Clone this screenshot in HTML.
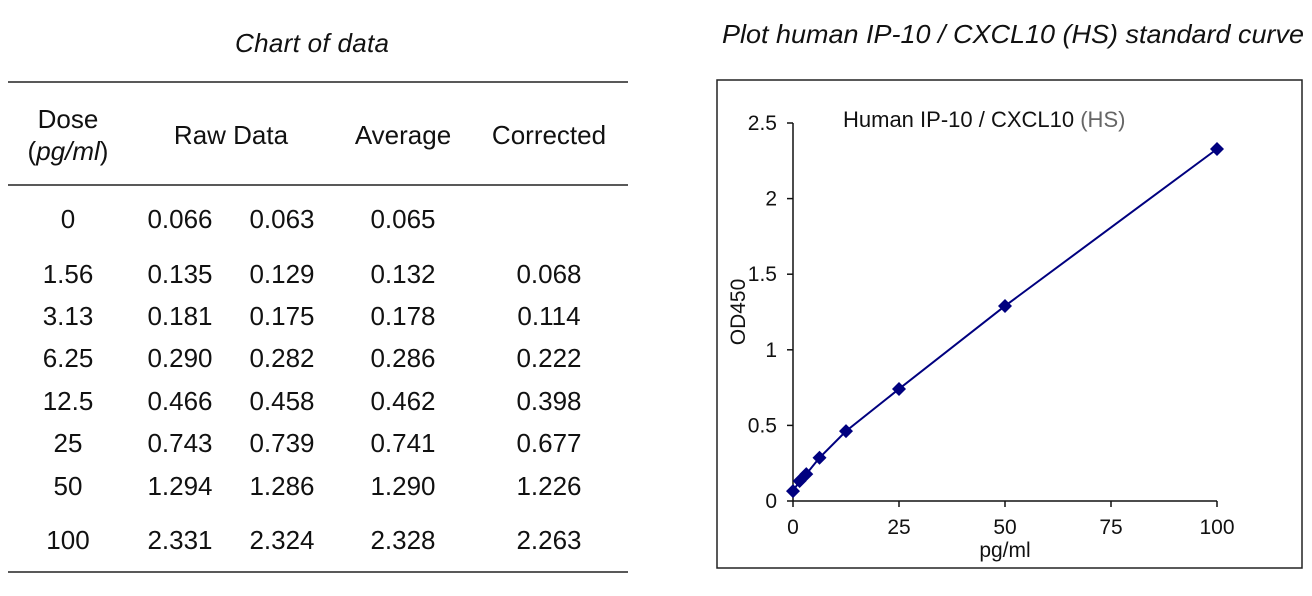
<!DOCTYPE html>
<html><head><meta charset="utf-8"><style>
body{margin:0;width:1312px;height:591px;background:#fff;font-family:"Liberation Sans",Arial,sans-serif;overflow:hidden}
svg text{font-family:"Liberation Sans",Arial,sans-serif;fill:#111}
</style></head><body>
<svg width="1312" height="591">
<g font-size="26">
<text x="312" y="52" text-anchor="middle" font-style="italic" font-size="26" textLength="154">Chart of data</text>
<line x1="8" y1="82" x2="628" y2="82" stroke="#222" stroke-width="1.5"/>
<line x1="8" y1="185" x2="628" y2="185" stroke="#222" stroke-width="1.5"/>
<line x1="8" y1="572" x2="628" y2="572" stroke="#222" stroke-width="1.5"/>
<text x="68" y="128" text-anchor="middle">Dose</text>
<text x="68" y="160" text-anchor="middle">(<tspan font-style="italic">pg/ml</tspan>)</text>
<text x="231" y="144" text-anchor="middle">Raw Data</text>
<text x="403" y="144" text-anchor="middle">Average</text>
<text x="549" y="144" text-anchor="middle">Corrected</text>
<g id="rows"></g>
</g>
<g>
<text x="722" y="43" font-style="italic" font-size="26" textLength="582" lengthAdjust="spacingAndGlyphs">Plot human IP-10 / CXCL10 (HS) standard curve</text>
<rect x="717" y="80" width="585" height="488" fill="none" stroke="#222" stroke-width="1.5"/>
<text x="843" y="127" font-size="22">Human IP-10 / CXCL10 <tspan fill="#666">(HS)</tspan></text>
<text x="1005" y="557" text-anchor="middle" font-size="21">pg/ml</text>
<text transform="translate(745,312) rotate(-90)" text-anchor="middle" font-size="21">OD450</text>
<g id="axes"></g><g id="marks"></g>
</g>
</svg>
<script>
const doses=["0","1.56","3.13","6.25","12.5","25","50","100"];
const raw1=["0.066","0.135","0.181","0.290","0.466","0.743","1.294","2.331"];
const raw2=["0.063","0.129","0.175","0.282","0.458","0.739","1.286","2.324"];
const avg=["0.065","0.132","0.178","0.286","0.462","0.741","1.290","2.328"];
const corr=["","0.068","0.114","0.222","0.398","0.677","1.226","2.263"];
const xVals=[0,1.56,3.13,6.25,12.5,25,50,100];
const yVals=[0.065,0.132,0.178,0.286,0.462,0.741,1.290,2.328];
const xTicks=[0,25,50,75,100];
const yTicks=[0,0.5,1,1.5,2,2.5];
const NS="http://www.w3.org/2000/svg";
function mk(t,a,p){const e=document.createElementNS(NS,t);for(const k in a)e.setAttribute(k,a[k]);p.appendChild(e);return e;}
const rowY=[228,283,325,367,410,452,495,549];
const rows=document.getElementById('rows');
const cols=[[68,doses],[180,raw1],[282,raw2],[403,avg],[549,corr]];
rowY.forEach((y,i)=>{cols.forEach(([x,arr])=>{const t=mk('text',{x:x,y:y,'text-anchor':'middle'},rows);t.textContent=arr[i];

});});
const X=v=>793+v*(1217-793)/100, Y=v=>501-v*(501-123)/2.5;
const ax=document.getElementById('axes');
mk('line',{x1:793,y1:Y(2.5),x2:793,y2:501,stroke:'#111','stroke-width':1.5},ax);
mk('line',{x1:793,y1:501,x2:1217,y2:501,stroke:'#111','stroke-width':1.5},ax);
yTicks.forEach(v=>{mk('line',{x1:787,y1:Y(v),x2:793,y2:Y(v),stroke:'#111','stroke-width':1.5},ax);
const t=mk('text',{x:777,y:Y(v)+7,'text-anchor':'end','font-size':21},ax);t.textContent=String(v);

});
xTicks.forEach(v=>{mk('line',{x1:X(v),y1:501,x2:X(v),y2:507,stroke:'#111','stroke-width':1.5},ax);
const t=mk('text',{x:X(v),y:534,'text-anchor':'middle','font-size':21},ax);t.textContent=String(v);

});
const mg=document.getElementById('marks');
const line=mk('polyline',{points:xVals.map((x,i)=>X(x)+','+Y(yVals[i])).join(' '),fill:'none',stroke:'#00007f','stroke-width':2},mg);


xVals.forEach((x,i)=>{const cx=X(x),cy=Y(yVals[i]);
const p=mk('polygon',{points:`${cx},${cy-7} ${cx+7},${cy} ${cx},${cy+7} ${cx-7},${cy}`,fill:'#00007f'},mg);

});
</script>
</body></html>
